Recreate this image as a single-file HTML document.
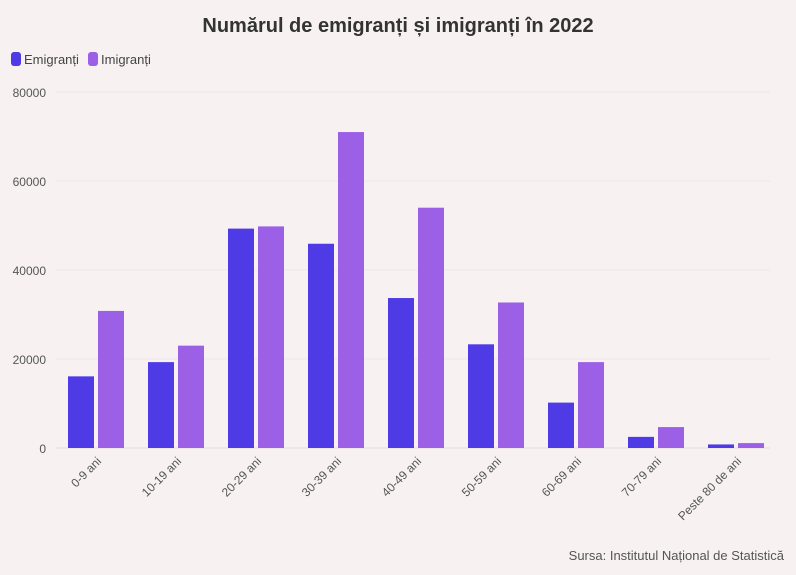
<!DOCTYPE html>
<html><head><meta charset="utf-8"><style>
body{margin:0;background:#f7f1f2;font-family:"Liberation Sans",sans-serif;}
svg{display:block}
</style></head><body>
<svg width="796" height="575" viewBox="0 0 796 575">
<rect width="796" height="575" fill="#f7f1f2"/>
<text x="398" y="32" text-anchor="middle" font-size="20" font-weight="bold" fill="#333">Numărul de emigranți și imigranți în 2022</text>
<g><rect x="11" y="52" width="10" height="14" rx="3" fill="#4f3be6"/><text x="24" y="64" font-size="13" fill="#444">Emigranți</text></g>
<g><rect x="88" y="52" width="10" height="14" rx="3" fill="#9b60e6"/><text x="101" y="64" font-size="13" fill="#444">Imigranți</text></g>
<g id="grid"></g><g id="bars"></g><g id="xlabels"></g>
<text x="784" y="560" text-anchor="end" font-size="13" fill="#555">Sursa: Institutul Național de Statistică</text>
</svg>
<script>
const categories=["0-9 ani","10-19 ani","20-29 ani","30-39 ani","40-49 ani","50-59 ani","60-69 ani","70-79 ani","Peste 80 de ani"];
const emigranti=[16100,19300,49300,45900,33700,23300,10200,2500,800];
const imigranti=[30800,23000,49800,71000,54000,32700,19300,4700,1100];
const ticks=[0,20000,40000,60000,80000];
const NS="http://www.w3.org/2000/svg";
const y0=448,yTop=92,yMax=80000,x0=56,band=80;
const y=v=>y0-(v/yMax)*(y0-yTop);
const xc=i=>x0+band*i+band/2;
function mk(t,a,p){const e=document.createElementNS(NS,t);for(const k in a)e.setAttribute(k,a[k]);p.appendChild(e);return e;}
const g=document.getElementById('grid');
ticks.forEach(t=>{
 const l=mk('line',{x1:56,x2:770,y1:y(t),y2:y(t),stroke:t===0?'#e6dcdc':'#efe6e6','stroke-width':1},g);
 
 
 const tx=mk('text',{x:46,y:y(t)+5,'text-anchor':'end','font-size':12,fill:'#555'},g);
 tx.textContent=t;
 
 
});
const b=document.getElementById('bars');
categories.forEach((c,i)=>{
 const r1=mk('rect',{x:xc(i)-28,y:y(emigranti[i]),width:26,height:y0-y(emigranti[i]),fill:'#4f3be6'},b);
 
 
 const r2=mk('rect',{x:xc(i)+2,y:y(imigranti[i]),width:26,height:y0-y(imigranti[i]),fill:'#9b60e6'},b);
 
 
 const t=mk('text',{x:xc(i)+6,y:462,'text-anchor':'end','font-size':12,fill:'#555',transform:`rotate(-45 ${xc(i)+6} 462)`},document.getElementById('xlabels'));
 t.textContent=c;
 
 
});
</script>
</body></html>
